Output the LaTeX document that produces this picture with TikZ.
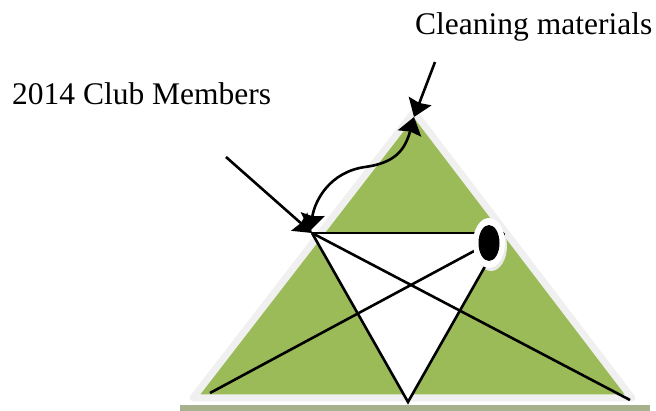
\documentclass[tikz,border=0pt]{standalone}
\usepackage{fontspec}
\setmainfont{Liberation Serif}
\usepackage{tikz}
\usetikzlibrary{shapes.geometric,arrows.meta,positioning,calc}
\definecolor{cTri}{HTML}{9BBB59}
\definecolor{cBand}{HTML}{A7B28C}
\definecolor{cRim}{HTML}{F0F0F0}

\begin{document}
\begin{tikzpicture}[
  x=1pt,y=-1pt,
  lbl/.style={anchor=base west,inner sep=0pt,font=\fontsize{31.5}{36}\selectfont},
  edge/.style={draw=black,line width=2.6pt},
  tip/.tip={Stealth[length=17pt,width=24pt,inset=2pt]},
  fl/.style={edge,-tip},
  eye/.style={ellipse,inner sep=0pt,minimum width=32pt,minimum height=50pt},
  ]
  \useasboundingbox (0,0) rectangle (656,411);

  % corners of the big triangle and of the white one
  \coordinate (apex) at (414,112);
  \coordinate (baseL) at (193,398);
  \coordinate (baseR) at (632,398);
  \coordinate (wl) at (312,233);
  \coordinate (wr) at (504,233);
  \coordinate (wb) at (408,402);
  \coordinate (crossL) at (210,393);
  \coordinate (crossR) at (630,400);
  \coordinate (clubTail) at (226,157);
  \coordinate (cleanTail) at (435,62);
  \coordinate (cleanTip) at (414,117);

  \fill[cBand] (180,405) rectangle (650,411);
  \filldraw[fill=cTri,draw=cRim,line width=7pt,line join=round]
    (apex) -- (baseR) -- (baseL) -- cycle;
  \fill[white] (wl) -- (wr) -- (wb) -- cycle;

  \node[eye,fill=black!8] (eyeShadow) at (491,246) {};
  \draw[edge] (wl) -- (wr);
  \draw[edge] (wl) -- (wb) -- (wr);
  \draw[edge] (wl) -- (crossR);
  \draw[edge] (crossL) -- (489,243);
  \node[eye,fill=white] (eyeRim) at (489,243) {};
  \node[ellipse,fill=black,inner sep=0pt,minimum width=21pt,minimum height=36pt]
    (eyeDot) at (eyeRim.center) {};

  \node[lbl] (club) at (12,105) {2014 Club Members};
  \node[lbl] (clean) at (415,35) {Cleaning materials};

  \draw[fl] (clubTail) -- (wl);
  \draw[fl] (cleanTail) -- (cleanTip);
  \draw[edge,tip-tip]
    (cleanTip) .. controls (405,150) and (395,163) .. (365,167)
    .. controls (330,172) and (315,200) .. (310,231);
\end{tikzpicture}
\end{document}
